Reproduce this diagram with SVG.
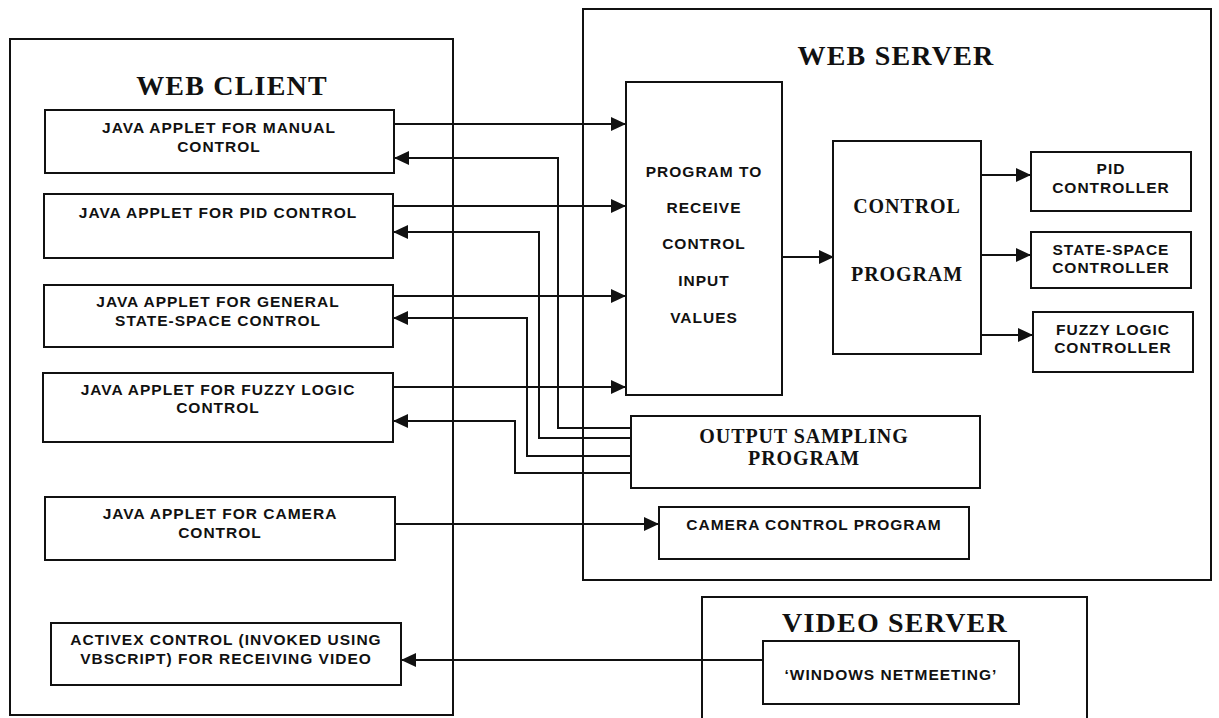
<svg xmlns="http://www.w3.org/2000/svg" width="1219" height="718" viewBox="0 0 1219 718">
  <style>
    .frame { fill: none; stroke: #111; stroke-width: 2; }
    .box { fill: #fff; stroke: #111; stroke-width: 2; }
    .wire { fill: none; stroke: #111; stroke-width: 2; }
    .title { font-family: "Liberation Serif", "Times New Roman", serif; font-weight: bold; font-size: 28px; letter-spacing: 1.2px; fill: #111; text-anchor: middle; }
    .serif { font-family: "Liberation Serif", "Times New Roman", serif; font-weight: bold; font-size: 20px; letter-spacing: 0.9px; fill: #111; text-anchor: middle; }
    .label { font-family: "Liberation Sans", Arial, sans-serif; font-weight: bold; font-size: 15.5px; letter-spacing: 1px; fill: #111; text-anchor: middle; }
  </style>
  <defs>
    <marker id="head" markerUnits="userSpaceOnUse" markerWidth="15" markerHeight="14" refX="15" refY="7" orient="auto">
      <path d="M0,0 L15,7 L0,14 z" fill="#111"/>
    </marker>
  </defs>
  <rect width="1219" height="718" fill="#fff"/>

  <!-- Outer frames -->
  <g id="web-client">
    <rect class="frame" x="10" y="39" width="443" height="676"/>
    <text class="title" x="232" y="95">WEB CLIENT</text>
  </g>
  <g id="web-server">
    <rect class="frame" x="583" y="9" width="628" height="571"/>
    <text class="title" x="896" y="65">WEB SERVER</text>
  </g>
  <g id="video-server">
    <rect class="frame" x="702" y="597" width="385" height="130"/>
    <text class="title" x="895" y="632">VIDEO SERVER</text>
  </g>

  <!-- Connectors -->
  <g id="connectors" class="wire">
    <!-- applets to input program -->
    <path d="M394,124 H626" marker-end="url(#head)"/>
    <path d="M393,206 H626" marker-end="url(#head)"/>
    <path d="M393,296 H626" marker-end="url(#head)"/>
    <path d="M393,387 H626" marker-end="url(#head)"/>
    <!-- sampled output back to applets -->
    <path d="M631,428 H558 V158 H394" marker-end="url(#head)"/>
    <path d="M631,438 H539 V232 H393" marker-end="url(#head)"/>
    <path d="M631,456 H527 V318 H393" marker-end="url(#head)"/>
    <path d="M631,473 H515 V421 H393" marker-end="url(#head)"/>
    <!-- server internals -->
    <path d="M782,257 H834" marker-end="url(#head)"/>
    <path d="M981,175 H1031" marker-end="url(#head)"/>
    <path d="M981,255 H1031" marker-end="url(#head)"/>
    <path d="M981,335 H1033" marker-end="url(#head)"/>
    <!-- camera and video -->
    <path d="M395,524 H659" marker-end="url(#head)"/>
    <path d="M763,660 H401" marker-end="url(#head)"/>
  </g>

  <!-- Client applets -->
  <g id="manual-applet">
    <rect class="box" x="45" y="110" width="349" height="63"/>
    <text class="label" x="219" y="133">JAVA APPLET FOR MANUAL</text>
    <text class="label" x="219" y="152">CONTROL</text>
  </g>
  <g id="pid-applet">
    <rect class="box" x="44" y="194" width="349" height="64"/>
    <text class="label" x="218" y="218">JAVA APPLET FOR PID CONTROL</text>
  </g>
  <g id="state-space-applet">
    <rect class="box" x="44" y="285" width="349" height="62"/>
    <text class="label" x="218" y="307">JAVA APPLET FOR GENERAL</text>
    <text class="label" x="218" y="326">STATE-SPACE CONTROL</text>
  </g>
  <g id="fuzzy-applet">
    <rect class="box" x="43" y="373" width="350" height="69"/>
    <text class="label" x="218" y="395">JAVA APPLET FOR FUZZY LOGIC</text>
    <text class="label" x="218" y="413">CONTROL</text>
  </g>
  <g id="camera-applet">
    <rect class="box" x="45" y="497" width="350" height="63"/>
    <text class="label" x="220" y="519">JAVA APPLET FOR CAMERA</text>
    <text class="label" x="220" y="538">CONTROL</text>
  </g>
  <g id="activex-control">
    <rect class="box" x="51" y="623" width="350" height="62"/>
    <text class="label" x="226" y="645">ACTIVEX CONTROL (INVOKED USING</text>
    <text class="label" x="226" y="664">VBSCRIPT) FOR RECEIVING VIDEO</text>
  </g>

  <!-- Server programs -->
  <g id="input-program">
    <rect class="box" x="626" y="82" width="156" height="313"/>
    <text class="label" x="704" y="177">PROGRAM TO</text>
    <text class="label" x="704" y="213">RECEIVE</text>
    <text class="label" x="704" y="249">CONTROL</text>
    <text class="label" x="704" y="286">INPUT</text>
    <text class="label" x="704" y="323">VALUES</text>
  </g>
  <g id="control-program">
    <rect class="box" x="833" y="141" width="148" height="213"/>
    <text class="serif" x="907" y="213">CONTROL</text>
    <text class="serif" x="907" y="281">PROGRAM</text>
  </g>
  <g id="pid-controller">
    <rect class="box" x="1031" y="152" width="160" height="59"/>
    <text class="label" x="1111" y="174">PID</text>
    <text class="label" x="1111" y="193">CONTROLLER</text>
  </g>
  <g id="state-space-controller">
    <rect class="box" x="1031" y="232" width="160" height="56"/>
    <text class="label" x="1111" y="255">STATE-SPACE</text>
    <text class="label" x="1111" y="273">CONTROLLER</text>
  </g>
  <g id="fuzzy-controller">
    <rect class="box" x="1033" y="312" width="160" height="60"/>
    <text class="label" x="1113" y="335">FUZZY LOGIC</text>
    <text class="label" x="1113" y="353">CONTROLLER</text>
  </g>
  <g id="output-sampling">
    <rect class="box" x="631" y="416" width="349" height="72"/>
    <text class="serif" x="804" y="443">OUTPUT SAMPLING</text>
    <text class="serif" x="804" y="465">PROGRAM</text>
  </g>
  <g id="camera-program">
    <rect class="box" x="659" y="507" width="310" height="52"/>
    <text class="label" x="814" y="530">CAMERA CONTROL PROGRAM</text>
  </g>

  <!-- Video source -->
  <g id="netmeeting">
    <rect class="box" x="763" y="641" width="256" height="63"/>
    <text class="label" x="891" y="680">‘WINDOWS NETMEETING’</text>
  </g>
</svg>
